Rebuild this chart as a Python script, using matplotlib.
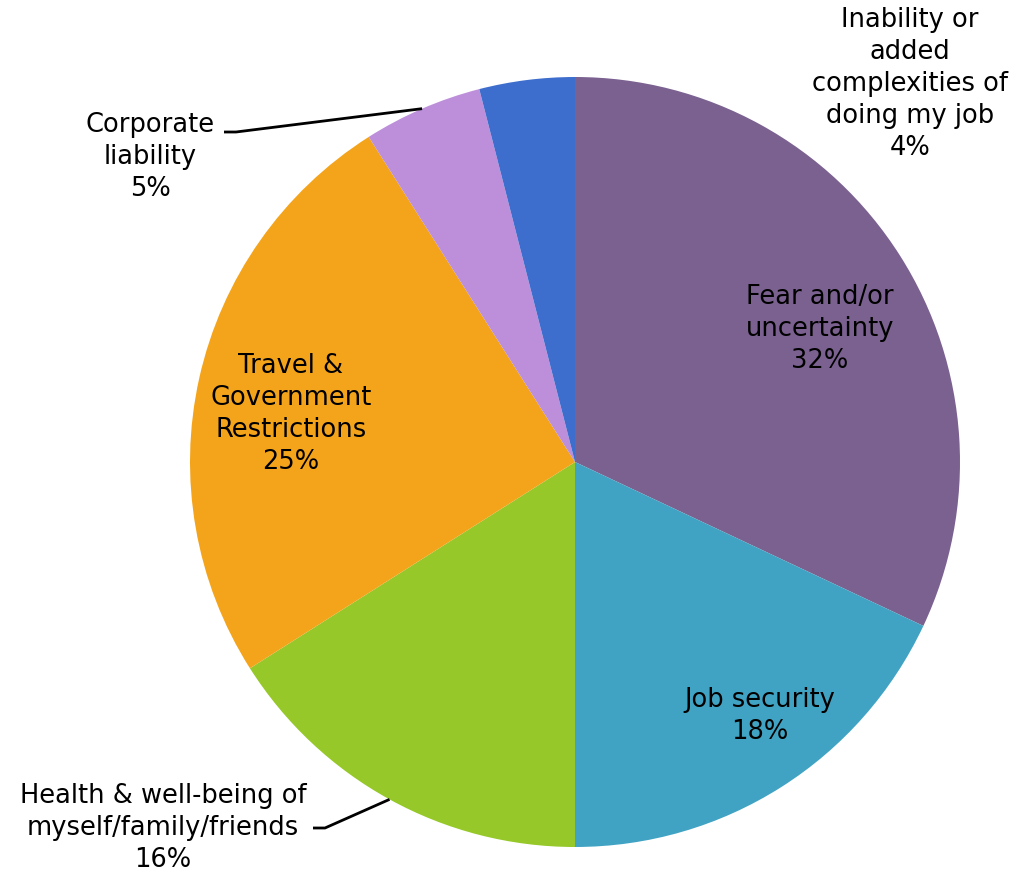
import numpy as np
import matplotlib.pyplot as plt

plt.rcParams['font.family'] = ['DejaVu Sans']

# Share of respondents per concern (clockwise from 12 o'clock)
categories = [
    "Fear and/or\nuncertainty",
    "Job security",
    "Health & well-being of\nmyself/family/friends",
    "Travel &\nGovernment\nRestrictions",
    "Corporate\nliability",
    "Inability or\nadded\ncomplexities of\ndoing my job",
]
shares = [32, 18, 16, 25, 5, 4]
colors = ["#7B6190", "#41A3C3", "#95C828", "#F4A41B", "#BD8FDA", "#3E6ECD"]

W, H = 1019, 871
fig = plt.figure(figsize=(W / 100, H / 100), dpi=100)
ax = fig.add_axes([0, 0, 1, 1])

cx, cy, r = 575, H - 462, 385
wedges, _ = ax.pie(shares, colors=colors, startangle=90, counterclock=False,
                   center=(cx, cy), radius=r, frame=True,
                   wedgeprops=dict(linewidth=0))
ax.set_xlim(0, W)
ax.set_ylim(0, H)
ax.set_aspect("equal")
ax.axis("off")

# label anchor (x, y from top) and leader-line starts
label_pos = [(820, 329), (760, 716), (163, 828), (291, 414), (150, 157), (910, 84)]
leaders = {2: (313, 828), 4: (224, 132)}

for i, (w, lab, val) in enumerate(zip(wedges, categories, shares)):
    x, y = label_pos[i]
    ax.text(x, H - y, f"{lab}\n{val}%", ha="center", va="center",
            fontsize=18.5, linespacing=1.3, color="black")
    if i in leaders:
        mid = np.deg2rad((w.theta1 + w.theta2) / 2)
        ex, ey = cx + r * np.cos(mid), cy + r * np.sin(mid)
        lx, ly = leaders[i]
        ax.plot([lx, lx + 12, ex], [H - ly, H - ly, ey], color="black", lw=2,
                solid_capstyle="butt")

fig.savefig("out.png", dpi=100)
